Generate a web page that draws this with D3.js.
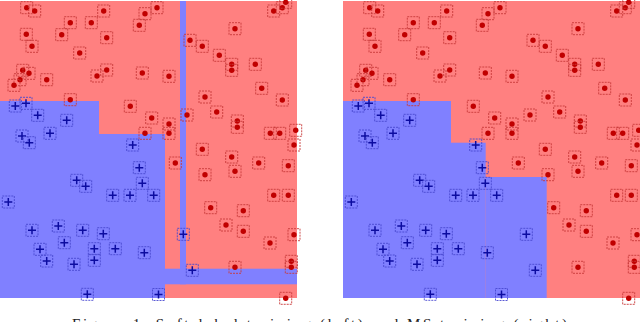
<!DOCTYPE html>
<html>
<head>
<meta charset="utf-8">
<script src="https://cdn.jsdelivr.net/npm/d3@7"></script>
<style>
  body { margin: 0; background: #fff; }
  svg { display: block; }
</style>
</head>
<body>
<div id="chart"></div>
<script>
// points, in panel units (0..297, y down)
const redPoints = [
  [26.7,6.7],[34.7,10],[103.7,10],[145,12.7],[157,6.7],[70.3,21.7],[91.3,21.7],[139.3,24.3],
  [26.3,33.3],[61.7,33.7],[106.7,36.7],[32,45.3],[79.7,52],[22.7,69.3],[29,72.3],[20,78.7],
  [14,84.3],[46.7,78.7],[106.7,69],[97,75],[142.3,72],[70.3,98.7],[130.3,105.3],[151.7,117],
  [145,132.3],[273.7,10],[282.3,6.7],[285.7,1.3],[235,27.7],[190,39.3],[202.3,45.3],[219.3,54.3],
  [231.7,63.3],[231.7,69.3],[255.3,63.3],[169,75.3],[261.7,87.3],[282.3,99],[205,96],[216.7,111],
  [187,114],[169,123],[169,132.3],[237.3,120],[237.3,126.3],[270.3,132.3],[279.7,132.3],[295.7,129.3],
  [294,144],[202.3,148.3],[231.7,156],[175.3,162],[258.7,162],[288.3,164.7],[205,173.7],[235,170.3],
  [273.7,194.3],[288.3,194.3],[210.7,206.7],[243.3,209.7],[226,224],[243.3,230.3],[294,233.7],
  [270,242],[235,266.3],[291.3,260.3],[291.3,266.3],[285.7,297.3]
];
const bluePoints = [
  [15.3,105],[26,102.3],[37.7,114.3],[66.7,119.3],[50,132.3],[22,135],[29.3,141.7],[132.7,144],
  [139.3,166.7],[76.7,179.3],[85.7,185.3],[142.3,182.3],[112.7,194.3],[130,194.3],[153.7,194.3],
  [8.3,201],[32,229.3],[58.3,225],[82.7,229.3],[103.3,232.7],[64.3,241.7],[40,248.3],[94.3,247.7],
  [115.3,247.7],[144.3,251.7],[46.7,260],[74,263.3],[94.3,259.3],[87.3,293.3],[158.5,293.5],
  [183.3,233.3],[192.3,269.3]
];
// blue decision regions [x0, y0, x1, y1]; the rest of each panel is red
const leftBlue = [[0,100,99,297],[99,133,165,297],[180,0,186,283.3],[165,267.7,297,283.3]];
const rightBlue = [[0,100,108,297],[108,141.7,142.7,297],[142.7,176,203.7,297]];
const panels = [
  { x0: 0, blue: leftBlue },
  { x0: 343, blue: rightBlue }
];
const caption = "Figure 1: Soft-label training (left) and MS training (right)";

const W = 640, H = 322, S = 297;
const svg = d3.select("#chart").append("svg").attr("width", W).attr("height", H);

panels.forEach(p => {
  const x = d3.scaleLinear().domain([0, S]).range([p.x0, p.x0 + S]);
  const y = d3.scaleLinear().domain([0, S]).range([1, 1 + S]);
  const g = svg.append("g");

  g.append("rect").attr("x", x(0)).attr("y", y(0))
    .attr("width", x(S) - x(0)).attr("height", y(S) - y(0)).attr("fill", "#ff8080");
  g.selectAll("rect.blue").data(p.blue).enter().append("rect")
    .attr("class", "blue")
    .attr("x", d => x(d[0])).attr("y", d => y(d[1]))
    .attr("width", d => x(d[2]) - x(d[0])).attr("height", d => y(d[3]) - y(d[1]))
    .attr("fill", "#8080ff");

  // red dots with dashed boxes
  const r = g.selectAll("g.red").data(redPoints).enter().append("g")
    .attr("transform", d => `translate(${x(d[0])},${y(d[1])})`);
  r.append("rect").attr("x", -6).attr("y", -6).attr("width", 12).attr("height", 12)
    .attr("fill", "none").attr("stroke", "#c83a3a").attr("stroke-width", 0.9)
    .attr("stroke-dasharray", "2,1");
  r.append("circle").attr("r", 2.7).attr("fill", "#c00000");

  // blue crosses with dashed boxes
  const b = g.selectAll("g.bl").data(bluePoints).enter().append("g")
    .attr("transform", d => `translate(${x(d[0])},${y(d[1])})`);
  b.append("rect").attr("x", -6).attr("y", -6).attr("width", 12).attr("height", 12)
    .attr("fill", "none").attr("stroke", "#4848d0").attr("stroke-width", 0.9)
    .attr("stroke-dasharray", "2,1");
  b.append("path").attr("d", "M-4,0H4M0,-4V4")
    .attr("stroke", "#0c0ca0").attr("stroke-width", 1.5).attr("fill", "none");
});

// caption sits partly below the bottom edge, as in the reference
svg.append("text")
  .attr("x", 72).attr("y", 329)
  .attr("textLength", 495).attr("lengthAdjust", "spacing")
  .attr("font-family", "'Liberation Serif', 'DejaVu Serif', serif")
  .attr("font-size", 15).attr("fill", "#222")
  .text(caption);
</script>
</body>
</html>
